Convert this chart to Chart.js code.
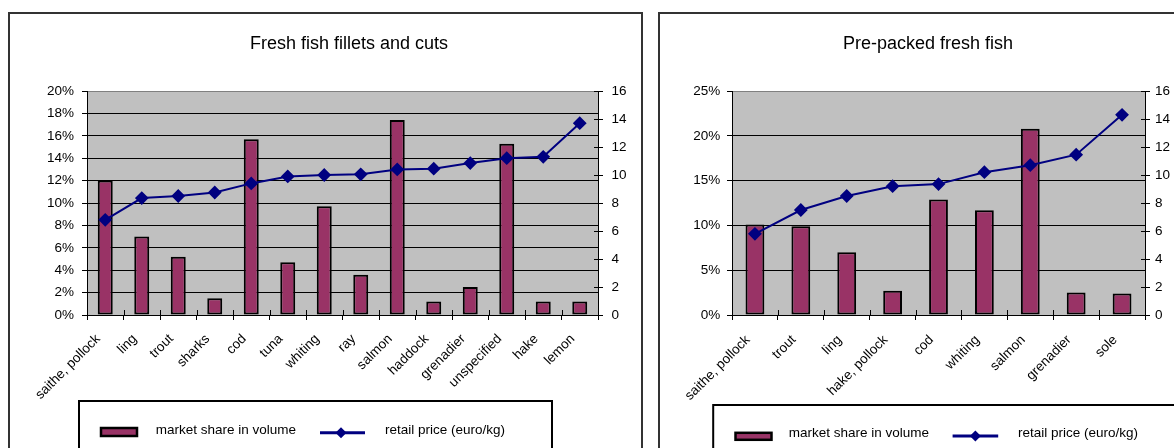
<!DOCTYPE html>
<html>
<head>
<meta charset="utf-8">
<script src="https://cdn.jsdelivr.net/npm/chart.js@4/dist/chart.umd.min.js"></script>
<style>
html, body { margin: 0; padding: 0; background: #fff; overflow: hidden; }
body { width: 1174px; height: 448px; position: relative; }
.frame { position: absolute; top: 12px; height: 480px; border: 2px solid #333; box-sizing: border-box; }
canvas { position: absolute; top: 13px; }
</style>
</head>
<body>
<div class="frame" style="left:8px;width:635px"></div>
<div class="frame" style="left:658px;width:560px"></div>
<canvas id="fillets" width="680" height="470" style="left:9px"></canvas>
<canvas id="prepacked" width="538" height="470" style="left:659px"></canvas>
<script>
// Fresh fish fillets and cuts
const filletFish = ['saithe, pollock', 'ling', 'trout', 'sharks', 'cod', 'tuna', 'whiting',
    'ray', 'salmon', 'haddock', 'grenadier', 'unspecified', 'hake', 'lemon'];
const filletShare = [12.0, 7.0, 5.2, 1.5, 15.7, 4.7, 9.7, 3.6, 17.4, 1.2, 2.5, 15.3, 1.2, 1.2];
const filletPrice = [6.8, 8.35, 8.5, 8.75, 9.4, 9.9, 10.0, 10.05, 10.4, 10.45, 10.85, 11.2, 11.3, 13.7];

// Pre-packed fresh fish
const packedFish = ['saithe, pollock', 'trout', 'ling', 'hake, pollock', 'cod', 'whiting',
    'salmon', 'grenadier', 'sole'];
const packedShare = [10.1, 9.9, 7.0, 2.7, 12.9, 11.7, 20.8, 2.5, 2.4];
const packedPrice = [5.8, 7.5, 8.5, 9.2, 9.35, 10.2, 10.7, 11.45, 14.3];

const FONT = "'Liberation Sans', Arial, sans-serif";
Chart.defaults.font.family = FONT;
Chart.defaults.font.size = 13.5;
Chart.defaults.color = '#000';

const plotBackground = {
    id: 'plotBackground',
    beforeDraw(chart) {
        const {ctx, chartArea: a} = chart;
        ctx.save();
        ctx.fillStyle = '#c0c0c0';
        ctx.fillRect(a.left, a.top, a.width, a.height);
        ctx.restore();
    }
};

// the tick marks that cross into the plot area (x axis and right axis)
const crossTicks = {
    id: 'crossTicks',
    afterDraw(chart) {
        const {ctx, chartArea: a, scales} = chart;
        ctx.save();
        ctx.strokeStyle = '#000';
        ctx.lineWidth = 1;
        ctx.beginPath();
        const n = scales.x.ticks.length;
        for (let i = 0; i <= n; i++) {
            const px = Math.round(a.left + i * a.width / n) + 0.5;
            ctx.moveTo(px, a.bottom);
            ctx.lineTo(px, a.bottom - 5);
        }
        scales.y1.ticks.forEach(t => {
            const py = Math.round(scales.y1.getPixelForValue(t.value)) + 0.5;
            ctx.moveTo(a.right, py);
            ctx.lineTo(a.right - 4, py);
        });
        ctx.stroke();
        ctx.restore();
    }
};

// excel style legend in a framed box
const boxLegend = {
    id: 'boxLegend',
    afterDraw(chart, args, o) {
        const ctx = chart.ctx;
        const bars = chart.data.datasets[1];
        const line = chart.data.datasets[0];
        ctx.save();
        ctx.strokeStyle = '#000';
        ctx.lineWidth = 2;
        ctx.strokeRect(o.box[0], o.box[1], o.box[2], o.box[3]);

        ctx.fillStyle = bars.backgroundColor;
        ctx.fillRect(o.swatch[0], o.swatch[1], o.swatch[2], o.swatch[3]);
        ctx.lineWidth = 2.5;
        ctx.strokeRect(o.swatch[0], o.swatch[1], o.swatch[2], o.swatch[3]);

        ctx.font = '13.5px ' + FONT;
        ctx.fillStyle = '#000';
        ctx.textBaseline = 'middle';
        ctx.fillText(bars.label, o.text1[0], o.text1[1]);
        ctx.fillText(line.label, o.text2[0], o.text2[1]);

        ctx.strokeStyle = line.borderColor;
        ctx.lineWidth = 3;
        ctx.beginPath();
        ctx.moveTo(o.line[0], o.line[2]);
        ctx.lineTo(o.line[1], o.line[2]);
        ctx.stroke();
        const cx = o.line[3], cy = o.line[2], r = 5.5;
        ctx.fillStyle = line.borderColor;
        ctx.beginPath();
        ctx.moveTo(cx, cy - r);
        ctx.lineTo(cx + r, cy);
        ctx.lineTo(cx, cy + r);
        ctx.lineTo(cx - r, cy);
        ctx.closePath();
        ctx.fill();
        ctx.restore();
    }
};

const makeChart = (id, labels, share, price, opt) => {
    const ctx = document.getElementById(id).getContext('2d');
    return new Chart(ctx, {
        type: 'bar',
        data: {
            labels: labels,
            datasets: [{
                type: 'line',
                label: 'retail price (euro/kg)',
                data: price,
                yAxisID: 'y1',
                borderColor: '#000080',
                backgroundColor: '#000080',
                borderWidth: 2,
                pointStyle: 'rectRot',
                pointRadius: 5.5,
                pointBackgroundColor: '#000080',
                pointBorderColor: '#000080',
                tension: 0,
                order: 1
            }, {
                label: 'market share in volume',
                data: share,
                yAxisID: 'y',
                backgroundColor: '#993366',
                borderColor: '#000',
                borderWidth: 2,
                borderSkipped: false,
                barPercentage: 0.41,
                categoryPercentage: 1,
                order: 2
            }]
        },
        options: {
            responsive: false,
            animation: false,
            layout: {padding: 0},
            plugins: {
                legend: {display: false},
                tooltip: {enabled: false},
                title: {
                    display: true,
                    text: opt.title,
                    color: '#000',
                    font: {size: 18, weight: 'normal'},
                    padding: {top: 20, bottom: 36.4}
                },
                boxLegend: opt.legend
            },
            scales: {
                x: {
                    grid: {display: true, drawOnChartArea: false, offset: true, tickLength: 5, color: '#000'},
                    border: {color: '#000', width: 1},
                    ticks: {minRotation: 45, maxRotation: 45, autoSkip: false, padding: opt.xPad, labelOffset: -7},
                    afterFit: s => { s.height = 168; }
                },
                y: {
                    position: 'left',
                    min: 0,
                    max: opt.shareMax,
                    ticks: {stepSize: opt.shareStep, padding: opt.yPad, callback: v => v + '%'},
                    grid: {
                        color: c => c.tick && c.tick.value === opt.shareMax ? '#808080' : '#000',
                        tickColor: '#000',
                        tickLength: 5
                    },
                    border: {color: '#000', width: 1},
                    afterFit: s => { s.width = opt.yWidth; }
                },
                y1: {
                    position: 'right',
                    min: 0,
                    max: 16,
                    ticks: {stepSize: 2, padding: opt.y1Pad},
                    grid: {drawOnChartArea: false, color: '#000', tickLength: 5},
                    border: {color: '#000', width: 1},
                    afterFit: s => { s.width = opt.y1Width; }
                }
            }
        },
        plugins: [plotBackground, crossTicks, boxLegend]
    });
};

makeChart('fillets', filletFish, filletShare, filletPrice, {
    title: 'Fresh fish fillets and cuts',
    shareMax: 20, shareStep: 2,
    yWidth: 78, y1Width: 91, yPad: 8, y1Pad: 8.5, xPad: 11,
    legend: {
        box: [70, 388, 473, 100],
        swatch: [92, 415, 36, 8],
        text1: [146.7, 417],
        line: [311, 356, 419.7, 332],
        text2: [376, 417]
    }
});

makeChart('prepacked', packedFish, packedShare, packedPrice, {
    title: 'Pre-packed fresh fish',
    shareMax: 25, shareStep: 5,
    yWidth: 73, y1Width: 52, yPad: 6.7, y1Pad: 5, xPad: 12,
    legend: {
        box: [54.2, 392, 600, 100],
        swatch: [76.5, 419.8, 36, 7],
        text1: [129.8, 420.6],
        line: [293.6, 339.2, 423, 316.4],
        text2: [359, 420.6]
    }
});
</script>
</body>
</html>
